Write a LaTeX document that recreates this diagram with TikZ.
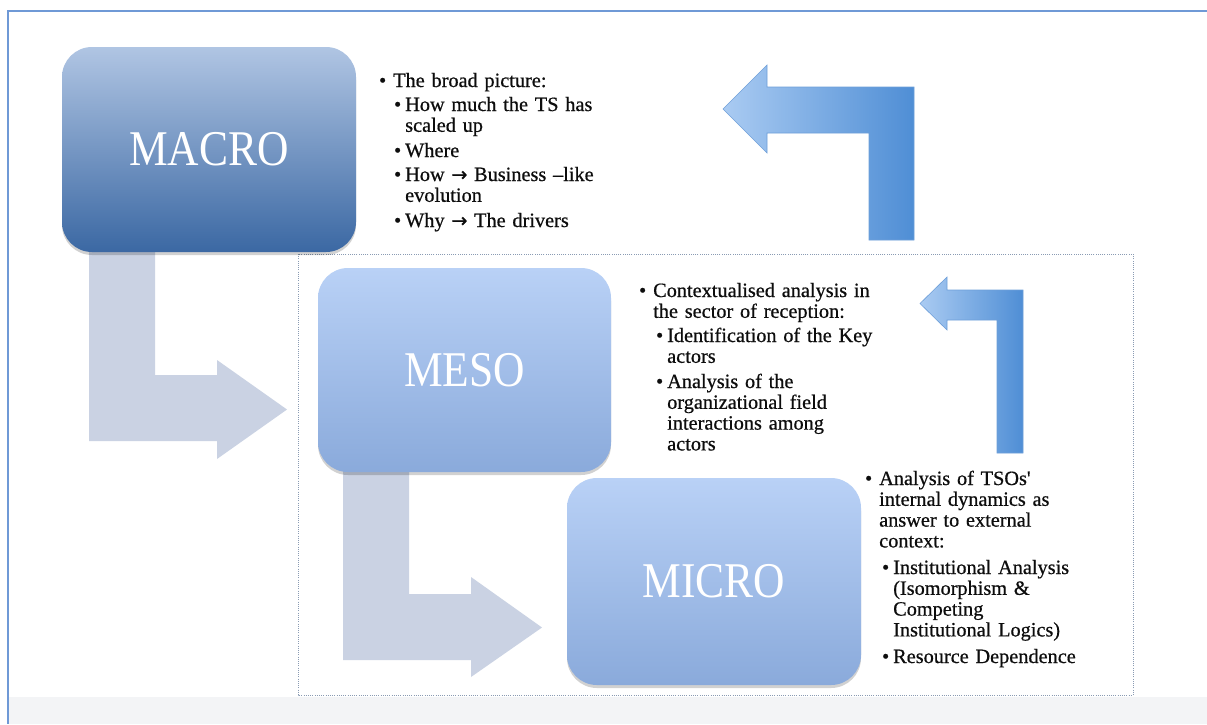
\documentclass[tikz,border=0pt]{standalone}
\usepackage{fontspec}
\usepackage{graphicx}
\setmainfont{Liberation Serif}[Ligatures=TeXOff]
\newfontfamily\itemff{Liberation Serif}[Ligatures=TeXOff, FakeBold=0.6]
\newfontfamily\arrowfont{DejaVu Sans}[FakeBold=1.2]
\usetikzlibrary{shadows}

\definecolor{framec}{HTML}{6F99D6}
\definecolor{bandc}{HTML}{F3F4F6}
\definecolor{dotc}{HTML}{8A9BB3}
\definecolor{macrotop}{HTML}{B0C5E3}
\definecolor{macrobot}{HTML}{3B68A3}
\definecolor{mesotop}{HTML}{B9D1F6}
\definecolor{mesobot}{HTML}{8AAADB}
\definecolor{grayarr}{HTML}{CAD2E3}
\definecolor{bluel}{HTML}{AACBF2}
\definecolor{bluer}{HTML}{4F8ED5}
\definecolor{blueedge}{HTML}{6E9FD9}
\definecolor{txt}{HTML}{0D0D0D}

\newcommand\itemfont{\itemff\fontsize{20.3}{20.8}\selectfont}
\newcommand\labelfont{\fontsize{50}{50}\selectfont}
\newcommand\bigword[1]{\scalebox{0.87}[1]{#1}}
\newcommand\ra{{\arrowfont\fontsize{19}{19}\selectfont →}}
\newcommand\bA{\llap{\textbullet\hskip 7pt}}
\newcommand\bB{\llap{\textbullet\hskip 4pt}}

\tikzset{
  levelbox/.style={rounded corners=30pt, inner sep=0pt, text=white, font=\labelfont,
    drop shadow={shadow xshift=0pt, shadow yshift=-3pt, opacity=0.18, fill=black}},
  macrostyle/.style={levelbox, top color=macrotop, bottom color=macrobot},
  mesostyle/.style={levelbox, top color=mesotop, bottom color=mesobot},
  itemtext/.style={anchor=base west, inner sep=0pt, text width=300pt, align=left,
    font=\itemfont, text=txt},
  grayarrow/.style={fill=grayarr, draw=none},
  bluearrow/.style={left color=bluel, right color=bluer, draw=blueedge, line width=0.6pt},
}

\begin{document}
\begin{tikzpicture}[x=1pt, y=-1pt]
\useasboundingbox (0,0) rectangle (1207,724);
\fill[white] (0,0) rectangle (1207,724);

% frame and band
\fill[bandc] (9,697) rectangle (1207,724);
\draw[framec, line width=1.5pt] (1207,11) -- (8,11) -- (8,724);

% dotted container
\draw[dotc, line width=0.9pt, dash pattern=on 1pt off 1.2pt] (298,254) rectangle (1133,695);

% gray block arrows
\path[grayarrow] (89,250) -- (155,250) -- (155,375) -- (217,375) -- (217,360)
  -- (287,409.5) -- (217,459) -- (217,441) -- (89,441) -- cycle;
\path[grayarrow] (343,470) -- (409,470) -- (409,594) -- (471,594) -- (471,577)
  -- (542,627.5) -- (471,677) -- (471,660) -- (343,660) -- cycle;

% blue block arrows
\path[bluearrow] (914,240) -- (914,87) -- (767,87) -- (767,65) -- (723,109)
  -- (767,153) -- (767,133) -- (869,133) -- (869,240) -- cycle;
\path[bluearrow] (1023,453) -- (1023,290) -- (947,290) -- (947,277) -- (920,303.5)
  -- (947,330) -- (947,320) -- (997,320) -- (997,453) -- cycle;

% level boxes
\node[macrostyle, minimum width=294pt, minimum height=205pt] (macro) at (209,149.5) {\bigword{MACRO}};
\node[mesostyle, minimum width=293pt, minimum height=204pt] (meso) at (464.5,370) {\bigword{MESO}};
\node[mesostyle, minimum width=294pt, minimum height=207pt] (micro) at (714,581.5) {\bigword{MICRO}};

% MACRO text
\node[itemtext] (ma1) at (393,87) {\bA The broad picture:};
\node[itemtext] (ma2) at (405,111) {\bB How much the TS has\\scaled up};
\node[itemtext] (ma3) at (405,157) {\bB Where};
\node[itemtext] (ma4) at (405,181) {\bB How \ra{} Business –like\\evolution};
\node[itemtext] (ma5) at (405,227) {\bB Why \ra{} The drivers};

% MESO text
\node[itemtext] (me1) at (653,297) {\bA Contextualised analysis in\\the sector of reception:};
\node[itemtext] (me2) at (667,342) {\bB Identification of the Key\\actors};
\node[itemtext] (me3) at (667,388) {\bB Analysis of the\\organizational field\\interactions among\\actors};

% MICRO text
\node[itemtext] (mi1) at (879,485) {\bA Analysis of TSOs'\\internal dynamics as\\answer to external\\context:};
\node[itemtext] (mi2) at (893,574) {\bB Institutional Analysis\\(Isomorphism \&\\Competing\\Institutional Logics)};
\node[itemtext] (mi3) at (893,663) {\bB Resource Dependence};
\end{tikzpicture}
\end{document}
